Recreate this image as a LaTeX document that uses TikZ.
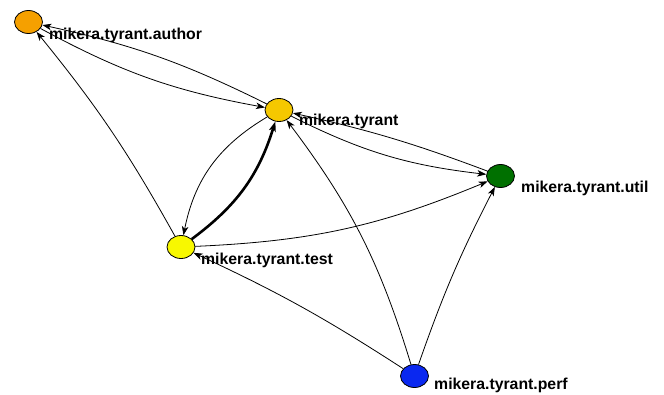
\documentclass[tikz,border=0pt]{standalone}
\usepackage{fontspec}
\setmainfont{Liberation Sans}
\usetikzlibrary{arrows.meta,shapes.geometric}
\definecolor{authorc}{HTML}{F5A000}
\definecolor{tyrantc}{HTML}{F5C800}
\definecolor{utilc}{HTML}{007000}
\definecolor{testc}{HTML}{F8F800}
\definecolor{perfc}{HTML}{0A28F0}
\begin{document}
\begin{tikzpicture}[x=1pt,y=-1pt,
  pkg/.style={ellipse,draw=black,line width=0.8pt,minimum width=28pt,minimum height=23pt,inner sep=0pt},
  lbl/.style={anchor=west,inner sep=0pt,font=\bfseries\fontsize{15.8}{16}\selectfont},
  dep/.style={-{Stealth[length=9pt,width=6.5pt,inset=2.5pt]},line width=0.8pt},
  heavy/.style={-{Stealth[length=10pt,width=7pt,inset=2.5pt]},line width=2.6pt}]
\fill[white] (0,0) rectangle (664,394);
\useasboundingbox (0,0) rectangle (664,394);
\node[pkg,fill=authorc] (author) at (28.5,22) {};
\node[pkg,fill=tyrantc] (tyrant) at (279,110) {};
\node[pkg,fill=utilc] (util) at (500.5,176) {};
\node[pkg,fill=testc] (test) at (181,247) {};
\node[pkg,fill=perfc] (perf) at (414.5,376) {};
\node[lbl] (lauthor) at (49,35) {mikera.tyrant.author};
\node[lbl] (ltyrant) at (299,121) {mikera.tyrant};
\node[lbl] (lutil) at (521,188) {mikera.tyrant.util};
\node[lbl] (ltest) at (201,260) {mikera.tyrant.test};
\node[lbl] (lperf) at (434,385) {mikera.tyrant.perf};
\draw[dep] (author) to[bend right=9] (tyrant);
\draw[dep] (tyrant) to[bend right=7] (author);
\draw[dep] (test) to[bend right=5] (author);
\draw[dep] (tyrant) to[bend right=24] (test);
\draw[heavy] (test) to[bend right=18] (tyrant);
\draw[dep] (tyrant) to[bend right=10] (util);
\draw[dep] (util) to[bend right=4] (tyrant);
\draw[dep] (test) to[bend right=10] (util);
\draw[dep] (perf) to[bend right=4] (test);
\draw[dep] (perf) to[bend right=10] (tyrant);
\draw[dep] (perf) to[bend left=4] (util);
\end{tikzpicture}
\end{document}
